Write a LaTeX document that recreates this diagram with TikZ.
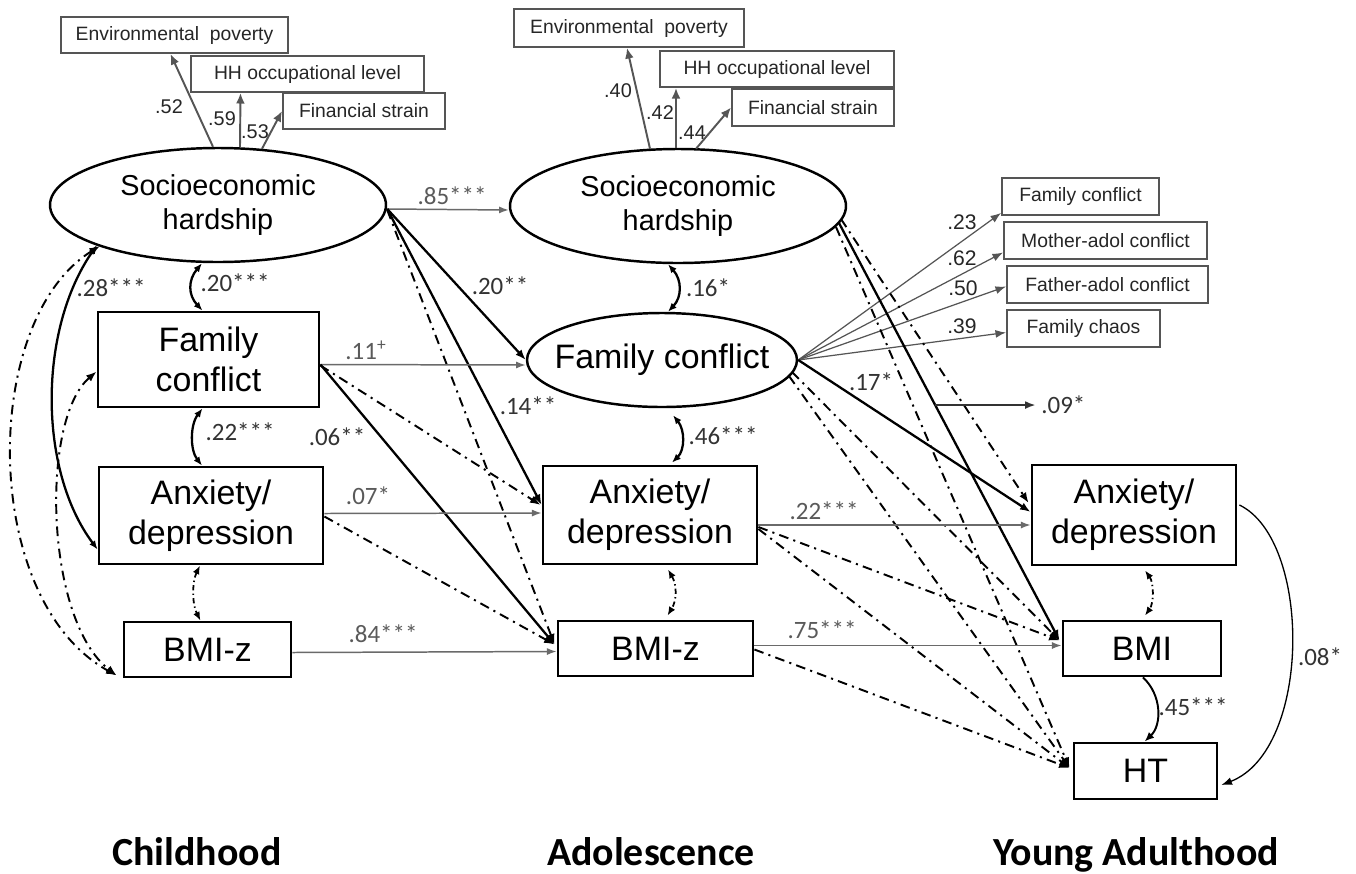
\documentclass[tikz,border=0pt]{standalone}
\usepackage{fontspec}
\setmainfont{Liberation Sans}
\newfontfamily\coeffont{Carlito}
\usetikzlibrary{arrows.meta,shapes.geometric,calc}
\definecolor{indgray}{HTML}{555555}
\definecolor{pathgray}{HTML}{6A6A6A}
\definecolor{lblgray}{HTML}{5A5A5A}
\definecolor{lbldark}{HTML}{333333}
\begin{document}
\begin{tikzpicture}[x=0.02cm,y=-0.02cm,
  sz/.style 2 args={minimum width={#1*0.02cm}, minimum height={#2*0.02cm}},
  indbox/.style={draw=indgray, line width=1.1pt, inner sep=0pt, font=\fontsize{11}{13}\selectfont, text=black!85},
  mainbox/.style={draw=black, line width=1.6pt, inner sep=0pt, align=center, font=\fontsize{19.3}{22.7}\selectfont},
  latent/.style={ellipse, draw=black, line width=1.4pt, inner sep=0pt, align=center},
  load/.style={draw=indgray, line width=1.1pt, -{Latex[length=6pt,width=5pt]}},
  yload/.style={draw=indgray, line width=0.7pt, -{Latex[length=6pt,width=4.5pt]}},
  loadlbl/.style={font=\fontsize{11.3}{13}\selectfont, text=black!85, inner sep=0pt},
  yloadlbl/.style={font=\fontsize{12}{14}\selectfont, text=black!85, inner sep=0pt},
  gpath/.style={draw=pathgray, line width=0.85pt, -{Latex[length=5.5pt,width=4pt]}},
  bpath/.style={draw=black, line width=1.3pt, -{Latex[length=6pt,width=4.5pt]}},
  dpath/.style={draw=black, line width=1.1pt, dash pattern=on 5.5pt off 3pt on 1.2pt off 3pt, -{Latex[length=6pt,width=4.5pt]}},
  dcovbig/.style={draw=black, line width=1.1pt, dash pattern=on 5.5pt off 3pt on 1.2pt off 3pt, {Latex[length=6pt,width=4.5pt]}-{Latex[length=6pt,width=4.5pt]}},
  cov/.style={draw=black, line width=1.3pt, {Latex[length=5pt,width=4pt]}-{Latex[length=5pt,width=4pt]}},
  dcov/.style={draw=black, line width=1.0pt, dash pattern=on 3pt off 1.8pt on 0.8pt off 1.8pt, {Latex[length=5pt,width=4pt]}-{Latex[length=5pt,width=4pt]}},
  coefl/.style={font=\coeffont\fontsize{14.2}{16}\selectfont, text=lblgray, inner sep=0pt},
  coefd/.style={font=\coeffont\fontsize{14.2}{16}\selectfont, text=lbldark, inner sep=0pt},
  period/.style={font=\coeffont\bfseries\fontsize{22.7}{26}\selectfont, anchor=base, inner sep=0pt}]

\path[use as bounding box, fill=white] (0,0) rectangle (1356,873);

% ---------- Childhood ----------
\node[indbox, sz={227}{36}] (env1) at (174.5,35) {Environmental\hspace{3pt} poverty};
\node[indbox, sz={233}{36}] (hh1) at (307.5,74) {HH occupational level};
\node[indbox, sz={162}{36}] (fs1) at (364,111) {Financial strain};
\node[latent, sz={336}{114}, font=\fontsize{16.4}{19.8}\selectfont] (ses1) at (218,205) {Socioeconomic\\hardship};
\node[mainbox, sz={221}{95}] (fc1) at (208.5,359.5) {Family\\conflict};
\node[mainbox, sz={224}{97}] (ad1) at (211,515.5) {Anxiety/\\depression};
\node[mainbox, sz={167}{55}] (bmi1) at (207.5,649.5) {BMI-z};

% ---------- Adolescence ----------
\node[indbox, sz={230}{38}] (env2) at (629,28) {Environmental\hspace{3pt} poverty};
\node[indbox, sz={234}{36}] (hh2) at (777,69) {HH occupational level};
\node[indbox, sz={162}{37}] (fs2) at (813,107.5) {Financial strain};
\node[latent, sz={336}{114}, font=\fontsize{16.4}{19.8}\selectfont] (ses2) at (678,206) {Socioeconomic\\hardship};
\node[latent, sz={270}{94}, font=\fontsize{19.3}{22.7}\selectfont] (fc2) at (662,360) {\makebox[0pt]{Family conflict}};
\node[mainbox, sz={214}{98}] (ad2) at (650,515) {Anxiety/\\depression};
\node[mainbox, sz={195}{55}] (bmi2) at (655.5,648.5) {BMI-z};

% ---------- Young adulthood ----------
\node[indbox, sz={157}{37}] (ifc) at (1080.5,196.5) {Family conflict};
\node[indbox, sz={203}{37}] (imo) at (1105.5,240.5) {Mother-adol conflict};
\node[indbox, sz={201}{37}] (ifa) at (1107.5,284.5) {Father-adol conflict};
\node[indbox, sz={153}{37}] (ich) at (1083.5,328.5) {Family chaos};
\node[mainbox, sz={204}{100}] (ad3) at (1134,515) {Anxiety/\\depression};
\node[mainbox, sz={158}{55}] (bmi3) at (1142,648.5) {BMI};
\node[mainbox, sz={143}{56}] (ht) at (1145.5,771) {HT};

% ---------- loadings ----------
\draw[load] ($(ses1.north)+(-5,0)$) -- ($(env1.south)+(-4,0)$);
\draw[load] ($(ses1.north)+(22,0)$) -- ($(hh1.south)+(-67,0)$);
\draw[load] ($(ses1.north)+(44,2)$) -- (fs1.west);
\node[loadlbl] (l52) at (169,107) {.52};
\node[loadlbl] (l59) at (222,119) {.59};
\node[loadlbl] (l53) at (255,132) {.53};

\draw[load] ($(ses2.north)+(-28,1)$) -- ($(env2.south)+(-2,0)$);
\draw[load] ($(ses2.north)+(-2,0)$) -- ($(hh2.south)+(-101,0)$);
\draw[load] ($(ses2.north)+(18,1)$) -- (fs2.west);
\node[loadlbl] (l40) at (618,91) {.40};
\node[loadlbl] (l42) at (660,113) {.42};
\node[loadlbl] (l44) at (692,133) {.44};

\draw[yload] (fc2.east) -- ($(ifc.south west)+(0,-3)$);
\draw[yload] (fc2.east) -- ($(imo.west)+(0,12)$);
\draw[yload] (fc2.east) -- ($(ifa.west)+(0,2)$);
\draw[yload] (fc2.east) -- ($(ich.west)+(0,4)$);
\node[yloadlbl] (l23) at (962,222) {.23};
\node[yloadlbl] (l62) at (962,258) {.62};
\node[yloadlbl] (l50) at (963,288) {.50};
\node[yloadlbl] (l39) at (962,326) {.39};

% ---------- childhood covariances ----------
\draw[cov] ($(ses1.south)+(-16,0)$) .. controls (188,280) and (188,295) .. ($(fc1.north)+(-6,0)$);
\draw[cov] ($(ses1.center)+(-121,40)$) .. controls (38,330) and (38,470) .. ($(ad1.west)+(0,34)$);
\draw[dcovbig] ($(ses1.center)+(-118,41)$) .. controls (-20,320) and (-20,600) .. ($(bmi1.south west)+(-6,-3)$);
\draw[dcovbig] ($(fc1.west)+(0,12)$) .. controls (40,420) and (45,620) .. ($(bmi1.south west)+(-6,-3)$);
\draw[cov] ($(fc1.south)+(-6,0)$) .. controls (190,425) and (190,450) .. ($(ad1.north)+(-9,0)$);
\draw[dcov] ($(ad1.south)+(-11,0)$) .. controls (192,582) and (192,604) .. ($(bmi1.north)+(-7,0)$);
\node[coefd] (l20a) at (235,283) {.20***};
\node[coefd] (l28) at (111,288) {.28***};
\node[coefd] (l22a) at (240,432) {.22***};

% ---------- childhood -> adolescence ----------
\draw[gpath] ($(ses1.east)+(0,4)$) -- ($(ses2.west)+(0,4)$);
\draw[bpath] ($(ses1.east)+(0,4)$) -- (fc2.west);
\draw[bpath] ($(ses1.east)+(0,4)$) -- ($(ad2.west)+(0,-10)$);
\draw[dpath] ($(ses1.east)+(0,5)$) -- ($(bmi2.west)+(-2,-4)$);
\draw[gpath] ($(fc1.east)+(0,5)$) -- ($(fc2.west)+(0,5)$);
\draw[bpath] ($(fc1.east)+(0,5)$) -- ($(bmi2.west)+(-2,-4)$);
\draw[dpath] ($(fc1.east)+(0,6)$) -- ($(ad2.west)+(-1,-10)$);
\draw[gpath] ($(ad1.east)+(0,-2)$) -- ($(ad2.west)+(0,-2)$);
\draw[dpath] ($(ad1.east)+(0,1)$) -- ($(bmi2.west)+(-2,-4)$);
\draw[gpath] ($(bmi1.east)+(0,3)$) -- ($(bmi2.west)+(0,3)$);
\node[coefl] (l85) at (452,196) {.85***};
\node[coefd] (l20b) at (500,286) {.20**};
\node[coefd] (l14) at (528,406) {.14**};
\node[coefl] (l11) at (366,350) {.11\textsuperscript{+}};
\node[coefd] (l06) at (337,437) {.06**};
\node[coefl] (l07) at (368,496) {.07*};
\node[coefl] (l84) at (383,634) {.84***};

% ---------- adolescence covariances ----------
\draw[cov] ($(ses2.south)+(-10,0)$) .. controls (682,280) and (682,297) .. ($(fc2.north)+(6,0)$);
\draw[cov] ($(fc2.south)+(11,7)$) .. controls (685,430) and (685,450) .. ($(ad2.north)+(22,-2)$);
\draw[dcov] ($(ad2.south)+(18,4)$) .. controls (677,585) and (677,600) .. ($(bmi2.north)+(12,-4)$);
\node[coefd] (l16) at (708,288) {.16*};
\node[coefd] (l46) at (723,436) {.46***};

% ---------- adolescence -> young adulthood ----------
\draw[dpath] ($(ses2.center)+(163,13)$) -- ($(ad3.west)+(-2,-12)$);
\draw[bpath] ($(ses2.center)+(161,17)$) -- coordinate[pos=0.436] (m09) ($(bmi3.west)+(-2,-8)$);
\draw[dpath] ($(ses2.center)+(158,21)$) -- ($(ht.west)+(-3,-3)$);
\draw[bpath] (fc2.east) -- ($(ad3.west)+(0,-3)$);
\draw[dpath] ($(fc2.center)+(130,12)$) -- ($(bmi3.west)+(-2,-8)$);
\draw[dpath] ($(fc2.center)+(127,16)$) -- ($(ht.west)+(-3,-3)$);
\draw[gpath] ($(ad2.east)+(0,10)$) -- ($(ad3.west)+(0,10)$);
\draw[dpath] ($(ad2.east)+(0,12)$) -- ($(bmi3.west)+(-2,-8)$);
\draw[dpath] ($(ad2.east)+(0,14)$) -- ($(ht.west)+(-3,-3)$);
\draw[gpath] ($(bmi2.east)+(0,-3)$) -- ($(bmi3.west)+(0,-3)$);
\draw[dpath] ($(bmi2.east)+(0,1)$) -- ($(ht.west)+(-3,-3)$);
\node[coefd] (l17) at (871,382) {.17*};
\node[coefl] (l22b) at (824,511) {.22***};
\node[coefl] (l75) at (822,630) {.75***};
\node[coefd, anchor=west] (l09) at (1041,405) {.09*};
\draw[draw=black!80, line width=1.3pt, -{Latex[length=6pt,width=4.5pt]}, shorten >=3pt] (m09) -- (m09 -| l09.west);

% ---------- young adulthood ----------
\draw[draw=black, line width=0.75pt, -{Latex[length=6pt,width=4.5pt]}] ($(ad3.east)+(2,-10)$) .. controls (1312,540) and (1312,750) .. ($(ht.east)+(3,14)$);
\draw[draw=black, line width=1.1pt, -{Latex[length=5.5pt,width=4.5pt]}] ($(bmi3.south)+(1,0)$) .. controls (1162,695) and (1162,725) .. ($(ht.north)+(-1,0)$);
\draw[dcov] ($(ad3.south)+(11,4)$) .. controls (1154,583) and (1154,603) .. ($(bmi3.north)+(3,-4)$);
\node[coefd] (l45) at (1193,707) {.45***};
\node[coefd] (l08) at (1320,657) {.08*};

% ---------- period labels ----------
\node[period] (tc) at (197,865) {Childhood};
\node[period] (ta) at (651,865) {Adolescence};
\node[period] (ty) at (1136,865) {Young Adulthood};
\end{tikzpicture}
\end{document}
